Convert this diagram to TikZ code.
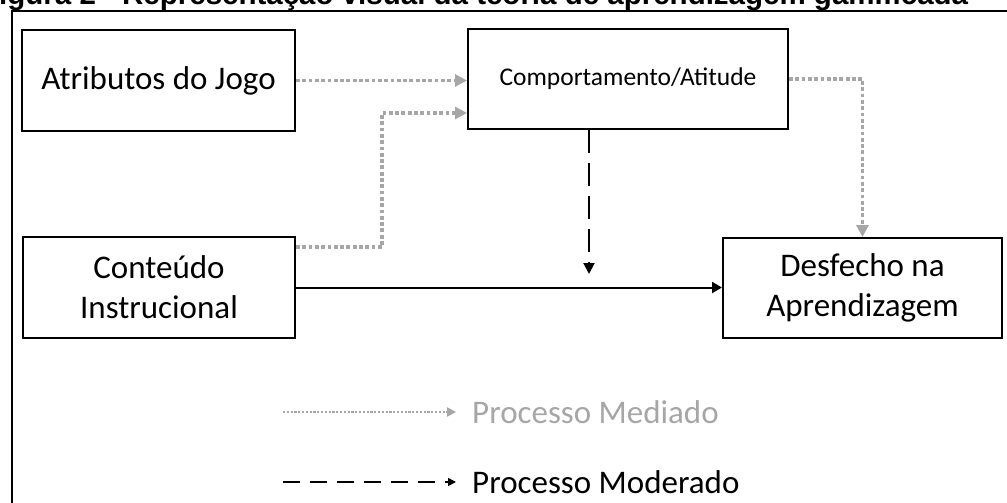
\documentclass[tikz,border=0pt]{standalone}
\usepackage{fontspec}
\setmainfont{Carlito}
\newfontfamily\titlefont{Liberation Sans}
\usetikzlibrary{arrows.meta}
\definecolor{medgray}{HTML}{A6A6A6}
\tikzset{
  x=1pt, y=-1pt,
  box/.style={draw=black, line width=2pt, inner sep=0pt, align=center,
    font=\fontsize{33}{40}\selectfont},
  med/.style={draw=medgray, line width=3.8pt, dash pattern=on 3.8pt off 2.5pt,
    -{Triangle[length=12pt, width=12pt, fill=medgray]}},
  mod/.style={draw=black, line width=2pt, dash pattern=on 23pt off 10pt,
    -{Triangle[length=11pt, width=11pt]}},
  direct/.style={draw=black, line width=2pt, -{Triangle[length=10pt, width=11pt]}},
  legtext/.style={anchor=west, inner sep=0pt, font=\fontsize{33}{40}\selectfont},
}
\begin{document}
\begin{tikzpicture}
\useasboundingbox (0,0) rectangle (1007,503);

% caption above the frame
\node[anchor=base west, inner sep=0pt, font=\titlefont\bfseries\fontsize{29.5}{34}\selectfont]
  (caption) at (-19,5) {Figura 2 - Representação visual da teoria de aprendizagem gamificada};

% outer frame
\draw[line width=2pt] (11.5,520) -- (11.5,11.5) -- (1020,11.5);

% boxes
\node[box, minimum width=273pt, minimum height=101pt] (atr) at (158.5,80.5) {Atributos do Jogo};
\node[box, minimum width=320pt, minimum height=100pt,
      font=\fontsize{25.5}{31}\selectfont] (comp) at (628,79) {Comportamento/Atitude};
\node[box, minimum width=272pt, minimum height=101pt] (cont) at (159,287.5) {Conteúdo\\Instrucional};
\node[box, minimum width=279pt, minimum height=100pt] (des) at (862.5,288) {Desfecho na\\Aprendizagem};

% mediated paths
\draw[med] (atr.east) -- (atr.east -| comp.west);
\coordinate (kink) at (382,113);
\draw[med] ([yshift=-11pt]cont.north east) -| (kink) -- (kink -| comp.west);
\draw[med] (comp.east) -| (des.north);

% direct path
\draw[direct] (cont.east) -- (cont.east -| des.west);

% moderating path
\coordinate (modtip) at (589,274);
\draw[mod] (modtip |- comp.south) -- (modtip);

% legend
\node[legtext, text=medgray] (lmed) at (472,412) {Processo Mediado};
\node[legtext] (lmod) at (472,482) {Processo Moderado};
\coordinate (lmedstart) at (283,412);
\coordinate (lmodstart) at (283,482);
\draw[draw=medgray, line width=2.8pt, dash pattern=on 2.2pt off 1.6pt,
      -{Triangle[length=9pt, width=9pt, fill=medgray]}]
  (lmedstart) -- ([xshift=-16pt]lmed.west);
\draw[line width=1.5pt, dash pattern=on 17pt off 10pt,
      -{Triangle[length=8pt, width=8pt]}]
  (lmodstart) -- ([xshift=-16pt]lmod.west);
\end{tikzpicture}
\end{document}
